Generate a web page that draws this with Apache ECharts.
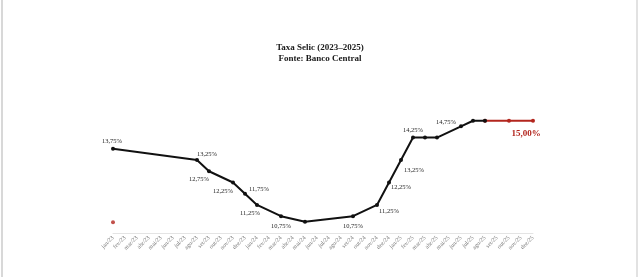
<!DOCTYPE html>
<html>
<head>
<meta charset="utf-8">
<script src="https://cdn.jsdelivr.net/npm/echarts@6/dist/echarts.min.js"></script>
<style>
html,body{margin:0;padding:0;background:#fff;}
#chart{width:640px;height:277px;}
</style>
</head>
<body>
<div id="chart"></div>
<script>
const months = ['jan','fev','mar','abr','mai','jun','jul','ago','set','out','nov','dez'];
const years = ['23','24','25'];
const categories = [];
years.forEach(y => months.forEach(m => categories.push(m + '/' + y)));

// Selic (black line) – values at Copom-change months, null elsewhere
const selic = [
  13.75, null, null, null, null, null, null, 13.25, 12.75, null, 12.25, 11.75,
  11.25, null, 10.75, null, 10.50, null, null, null, 10.75, null, 11.25, 12.25,
  13.25, 14.25, 14.25, 14.25, null, 14.75, 15.00, 15.00, null, null, null, null
];
// Projection (red line)
const projecao = [
  null, null, null, null, null, null, null, null, null, null, null, null,
  null, null, null, null, null, null, null, null, null, null, null, null,
  null, null, null, null, null, null, null, 15.00, null, 15.00, null, 15.00
];
// stray red dot
const pontoIsolado = [10.48];

const title = 'Taxa Selic (2023\u20132025)';
const subtitle = 'Fonte: Banco Central';

const fmt = v => v.toFixed(2).replace('.', ',') + '%';

// label placement (index -> [dx, dy]) relative to the point
const labelOffsets = {
  0: [-1, -7], 7: [10, -6], 8: [-10, 8], 10: [-10, 9], 11: [14, -4], 12: [-7, 8],
  14: [0, 10], 20: [0, 10], 22: [12, 6], 23: [12, 5], 24: [13, 10], 25: [0, -7],
  29: [-15, -4]
};
const redLabelOffsets = { 35: [-7, 13] };

const serif = '"Liberation Serif", "DejaVu Serif", serif';

function buildData(arr, offsets, labelStyle) {
  return arr.map((v, i) => {
    if (v === null) return null;
    const item = { value: v };
    if (offsets[i]) {
      item.label = Object.assign({
        show: true,
        position: 'inside',
        offset: offsets[i],
        align: 'center',
        verticalAlign: 'middle',
        formatter: p => fmt(p.value)
      }, labelStyle);
    }
    return item;
  });
}

const chart = echarts.init(document.getElementById('chart'), null, { renderer: 'canvas' });
chart.setOption({
  animation: false,
  backgroundColor: '#ffffff',
  title: [
    { text: title, left: 'center', top: 38, textStyle: { fontFamily: serif, fontSize: 9, fontWeight: 'bold', color: '#1a1a1a' } },
    { text: subtitle, left: 'center', top: 49, textStyle: { fontFamily: serif, fontSize: 9, fontWeight: 'bold', color: '#1a1a1a' } }
  ],
  grid: { left: 113, right: 107, top: 109.5, bottom: 44, containLabel: false },
  xAxis: {
    type: 'category',
    data: categories,
    boundaryGap: false,
    axisLine: { lineStyle: { color: '#e4e4e4', width: 1 } },
    axisTick: { show: false },
    axisLabel: { interval: 0, rotate: 45, fontSize: 6, color: '#7a7a7a', margin: 4, fontFamily: serif },
    splitLine: { show: false }
  },
  yAxis: {
    type: 'value',
    min: 10,
    max: 15.5,
    show: false,
    splitLine: { show: false }
  },
  series: [
    {
      name: 'Selic',
      type: 'line',
      data: buildData(selic, labelOffsets, { fontSize: 6.5, color: '#262626', fontFamily: serif }),
      connectNulls: true,
      symbol: 'circle',
      symbolSize: 4,
      itemStyle: { color: '#111' },
      lineStyle: { color: '#111', width: 2 },
      z: 3
    },
    {
      name: 'Projeção',
      type: 'line',
      data: buildData(projecao, redLabelOffsets, { fontSize: 9, fontWeight: 'bold', color: '#b3261e', fontFamily: serif }),
      connectNulls: true,
      symbol: 'circle',
      symbolSize: 4,
      itemStyle: { color: '#b3261e' },
      lineStyle: { color: '#b3261e', width: 2 },
      z: 2
    },
    {
      name: 'ponto',
      type: 'scatter',
      data: pontoIsolado.map((v, i) => [i, v]),
      symbol: 'circle',
      symbolSize: 4,
      itemStyle: { color: '#b3261e' }
    }
  ],
  graphic: [
    { type: 'rect', left: 1, top: 0, shape: { width: 2, height: 277 }, style: { fill: '#d8d8d8' } },
    { type: 'rect', right: 2, top: 0, shape: { width: 2, height: 277 }, style: { fill: '#e2e2e2' } }
  ]
});
</script>
</body>
</html>
